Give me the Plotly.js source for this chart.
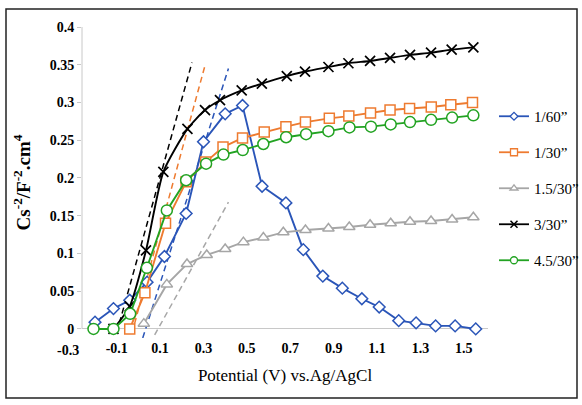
<!DOCTYPE html>
<html>
<head>
<meta charset="utf-8">
<script src="https://cdn.plot.ly/plotly-3.0.1.min.js"></script>
<style>
html,body{margin:0;padding:0;background:#fff;}
#chart{width:582px;height:405px;}
</style>
</head>
<body>
<div id="chart"></div>
<script>
// ---- data ----
const seriesNames = ['1/60”', '1/30”', '1.5/30”', '3/30”', '4.5/30”'];

const xBlue = [-0.20, -0.115, -0.04, 0.04, 0.12, 0.22, 0.30, 0.40, 0.48, 0.57, 0.68, 0.76, 0.85, 0.94, 1.03, 1.11, 1.20, 1.28, 1.37, 1.46, 1.555];
const yBlue = [0.009, 0.027, 0.038, 0.062, 0.096, 0.153, 0.248, 0.285, 0.296, 0.189, 0.167, 0.105, 0.070, 0.054, 0.040, 0.029, 0.011, 0.008, 0.004, 0.004, 0.0];

const xOrange = [-0.04, 0.03, 0.125, 0.22, 0.31, 0.39, 0.48, 0.58, 0.68, 0.77, 0.88, 0.97, 1.07, 1.16, 1.25, 1.35, 1.44, 1.54];
const yOrange = [0.0, 0.048, 0.140, 0.195, 0.221, 0.241, 0.253, 0.261, 0.268, 0.274, 0.279, 0.282, 0.286, 0.290, 0.292, 0.294, 0.297, 0.300];

const xGray = [0.025, 0.131, 0.224, 0.315, 0.40, 0.484, 0.576, 0.668, 0.77, 0.876, 0.972, 1.068, 1.163, 1.252, 1.349, 1.446, 1.544];
const yGray = [0.007, 0.059, 0.086, 0.098, 0.106, 0.115, 0.121, 0.128, 0.131, 0.133, 0.135, 0.138, 0.140, 0.142, 0.143, 0.145, 0.148];

const xBlack = [-0.115, -0.04, 0.035, 0.115, 0.226, 0.307, 0.376, 0.476, 0.569, 0.684, 0.768, 0.876, 0.968, 1.068, 1.160, 1.252, 1.349, 1.444, 1.544];
const yBlack = [0.0, 0.03, 0.104, 0.208, 0.265, 0.290, 0.303, 0.316, 0.325, 0.335, 0.341, 0.347, 0.352, 0.355, 0.359, 0.363, 0.366, 0.370, 0.373];

const xGreen = [-0.207, -0.115, -0.038, 0.039, 0.131, 0.22, 0.312, 0.392, 0.481, 0.576, 0.681, 0.773, 0.876, 0.973, 1.072, 1.163, 1.252, 1.349, 1.446, 1.544];
const yGreen = [0.0, 0.0, 0.020, 0.081, 0.157, 0.197, 0.219, 0.231, 0.237, 0.245, 0.254, 0.258, 0.262, 0.267, 0.268, 0.271, 0.274, 0.277, 0.280, 0.283];

// linear fit (tangent) lines, two end points each
const xFitBlack = [-0.10, 0.247];  const yFitBlack = [-0.005, 0.353];
const xFitOrange = [-0.03, 0.307]; const yFitOrange = [-0.006, 0.349];
const xFitBlue = [0.02, 0.415];    const yFitBlue = [-0.012, 0.345];
const xFitGray = [0.075, 0.415];   const yFitGray = [-0.008, 0.168];

const xTickVals = [-0.1, 0.1, 0.3, 0.5, 0.7, 0.9, 1.1, 1.3, 1.5];
const xTickText = ['-0.1', '0.1', '0.3', '0.5', '0.7', '0.9', '1.1', '1.3', '1.5'];
const xOuterLabel = '-0.3';
const xOuterVal = -0.3;
const yTickVals = [0, 0.05, 0.1, 0.15, 0.2, 0.25, 0.3, 0.35, 0.4];

// ---- styling ----
const C = {blue:'#2a55b8', orange:'#ee7b30', gray:'#a6a6a6', black:'#000000', green:'#22a322'};
const serif = 'Liberation Serif';
const X_RANGE = [-0.26, 1.6115];
const Y_RANGE = [-0.012, 0.4];

function fit(x, y, color){
  return {x:x, y:y, type:'scatter', mode:'lines', showlegend:false, hoverinfo:'skip',
    line:{color:color, width:1.5, dash:'6px,4px'}};
}
function series(x, y, color, symbol, size){
  return {x:x, y:y, type:'scatter', mode:'lines+markers', showlegend:false, cliponaxis:false,
    line:{color:color, width:1.9},
    marker:{symbol:symbol, size:size, color:'#ffffff', line:{color:color, width:1.5}}};
}
function legendItem(name, color, symbol, size){
  return {x:[null], y:[null], type:'scatter', mode:'lines+markers', name:name, legendgroup:name,
    line:{color:color, width:1.8},
    marker:{symbol:symbol, size:size, color:'#ffffff', line:{color:color, width:1.3}}};
}

const data = [
  fit(xFitBlack, yFitBlack, C.black),
  fit(xFitOrange, yFitOrange, C.orange),
  fit(xFitBlue, yFitBlue, C.blue),
  fit(xFitGray, yFitGray, C.gray),
  series(xBlue, yBlue, C.blue, 'diamond', 9),
  series(xOrange, yOrange, C.orange, 'square', 10),
  series(xGray, yGray, C.gray, 'triangle-up', 10),
  {x:xBlack, y:yBlack, type:'scatter', mode:'lines+markers', showlegend:false, cliponaxis:false,
    line:{color:C.black, width:1.9, shape:'spline', smoothing:0.6},
    marker:{symbol:'x-thin', size:10, color:C.black, line:{color:C.black, width:1.7}}},
  series(xGreen, yGreen, C.green, 'circle', 11),
  legendItem(seriesNames[0], C.blue, 'diamond', 6),
  legendItem(seriesNames[1], C.orange, 'square', 7),
  legendItem(seriesNames[2], C.gray, 'triangle-up', 7),
  {x:[null], y:[null], type:'scatter', mode:'lines+markers', name:seriesNames[3], legendgroup:seriesNames[3],
    line:{color:C.black, width:1.8},
    marker:{symbol:'x-thin', size:7, color:C.black, line:{color:C.black, width:1.5}}},
  legendItem(seriesNames[4], C.green, 'circle', 7)
];

// pixel frame helpers (layout only)
const W = 582, H = 405, L = 82, R = 94, T = 27, B = 67;
const pw = W - L - R, ph = H - T - B;
const px2x = p => (p - L) / pw;
const px2y = p => (H - B - p) / ph;

const layout = {
  width: W, height: H,
  margin: {l:L, r:R, t:T, b:B, pad:0, autoexpand:false},
  paper_bgcolor:'#ffffff', plot_bgcolor:'#ffffff',
  font: {family: serif, color:'#000'},
  showlegend: true,
  legend: {x: px2x(494), y: px2y(100), xanchor:'left', yanchor:'top',
    font:{family:serif, size:15, color:'#000'}, tracegroupgap: 13.5, bgcolor:'rgba(0,0,0,0)'},
  xaxis: {
    range: X_RANGE, showgrid:false, zeroline:false, showline:false,
    tickmode:'array', tickvals:xTickVals, ticktext:xTickText, ticks:'',
    tickfont:{family:serif, size:14, color:'#000', weight:'bold'},
    title:{text:'Potential (V) vs.Ag/AgCl', font:{family:serif, size:17, color:'#000'}, standoff:14}
  },
  yaxis: {
    range: Y_RANGE, showgrid:false, showline:false,
    zeroline:true, zerolinecolor:'#c8c8c8', zerolinewidth:1,
    tickmode:'array', tickvals:yTickVals, ticks:'outside', ticklen:4, tickcolor:'#c8c8c8', tickwidth:1,
    tickfont:{family:serif, size:14, color:'#000', weight:'bold'},
    title:{text:'Cs<sup>-2</sup>/F<sup>-2</sup>.cm<sup>4</sup>', font:{family:serif, size:19, color:'#000', weight:'bold'}, standoff:14}
  },
  shapes: [
    {type:'line', xref:'paper', yref:'y', x0:0, x1:0, y0:0, y1:0.4, line:{color:'#c8c8c8', width:1}},
    {type:'rect', xref:'paper', yref:'paper', x0:px2x(6), x1:px2x(577), y0:px2y(9), y1:px2y(398), line:{color:'#222', width:1.5}, fillcolor:'rgba(0,0,0,0)', layer:'below'}
  ],
  annotations: [
    {xref:'paper', yref:'y', x:(xOuterVal - X_RANGE[0])/(X_RANGE[1]-X_RANGE[0]), y:0, yanchor:'top', xanchor:'center',
     xshift:-5, yshift:-12, text:xOuterLabel, showarrow:false, font:{family:serif, size:14, color:'#000', weight:'bold'}}
  ]
};

Plotly.newPlot('chart', data, layout, {displayModeBar:false, staticPlot:true});
</script>
</body>
</html>
